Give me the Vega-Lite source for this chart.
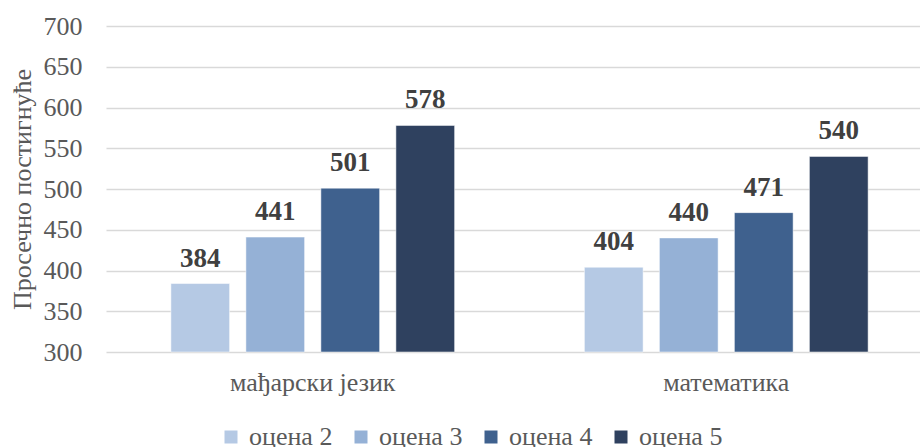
{
  "$schema": "https://vega.github.io/schema/vega-lite/v6.json",
  "width": 814,
  "height": 326,
  "autosize": {"type": "none"},
  "padding": {"left": 106, "top": 26, "right": 0, "bottom": 95},
  "background": "white",
  "config": {"view": {"stroke": null}, "font": "Liberation Serif"},
  "data": {"values": [
    {"subject": "мађарски језик", "grade": "оцена 2", "value": 384},
    {"subject": "мађарски језик", "grade": "оцена 3", "value": 441},
    {"subject": "мађарски језик", "grade": "оцена 4", "value": 501},
    {"subject": "мађарски језик", "grade": "оцена 5", "value": 578},
    {"subject": "математика", "grade": "оцена 2", "value": 404},
    {"subject": "математика", "grade": "оцена 3", "value": 440},
    {"subject": "математика", "grade": "оцена 4", "value": 471},
    {"subject": "математика", "grade": "оцена 5", "value": 540}
  ]},
  "encoding": {
    "x": {
      "field": "subject", "type": "nominal",
      "sort": ["мађарски језик", "математика"],
      "scale": {"range": [0, 827], "paddingInner": 0, "paddingOuter": 0},
      "axis": {"title": null, "labelAngle": 0, "domain": false, "ticks": false, "labelFontSize": 26, "labelColor": "#595959", "labelPadding": 17, "labelFont": "Liberation Serif"}
    },
    "xOffset": {
      "field": "grade", "type": "nominal",
      "scale": {"paddingInner": 0.217, "paddingOuter": 0.865}
    },
    "y": {
      "field": "value", "type": "quantitative",
      "scale": {"domain": [300, 700], "nice": false, "zero": false},
      "axis": {
        "title": "Просечно постигнуће",
        "values": [300, 350, 400, 450, 500, 550, 600, 650, 700],
        "grid": true, "gridColor": "#d9d9d9", "gridWidth": 1.5,
        "domain": false, "ticks": false,
        "labelPadding": 24, "labelFontSize": 26, "labelColor": "#595959", "labelFont": "Liberation Serif",
        "titleFontSize": 26, "titleColor": "#595959", "titleFontWeight": "normal", "titlePadding": 8, "titleFont": "Liberation Serif"
      }
    }
  },
  "layer": [
    {
      "mark": {"type": "bar", "stroke": "#ffffff", "strokeWidth": 0.5},
      "encoding": {
        "y2": {"datum": 300},
        "color": {
          "field": "grade", "type": "nominal",
          "scale": {"domain": ["оцена 2", "оцена 3", "оцена 4", "оцена 5"], "range": ["#b5c9e4", "#95b1d6", "#3f618e", "#2f415f"]},
          "legend": {
            "orient": "none", "legendX": 112, "legendY": 398, "direction": "horizontal", "title": null,
            "symbolType": "square", "symbolSize": 169, "symbolStrokeWidth": 0,
            "labelFontSize": 26, "labelColor": "#595959", "labelFont": "Liberation Serif",
            "columnPadding": 15, "labelOffset": 5
          }
        }
      }
    },
    {
      "mark": {"type": "text", "baseline": "alphabetic", "dy": -17, "fontSize": 27, "fontWeight": "bold", "color": "#404040", "font": "Liberation Serif"},
      "encoding": {"text": {"field": "value", "type": "quantitative"}}
    }
  ]
}
